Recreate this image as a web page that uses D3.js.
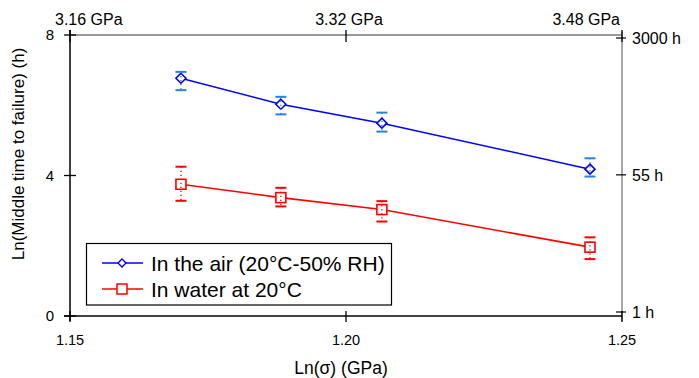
<!DOCTYPE html>
<html>
<head>
<meta charset="utf-8">
<script src="https://cdn.jsdelivr.net/npm/d3@7"></script>
<style>
  html, body { margin: 0; padding: 0; background: #fff; }
  svg text { font-family: "Liberation Sans", Arial, Helvetica, sans-serif; fill: #000; }
</style>
</head>
<body>
<svg id="chart" width="699" height="378"></svg>
<script>
// ---- data ----
const lnSigma = [1.1701, 1.1882, 1.2065, 1.2442];
const airMean = [6.77, 6.03, 5.49, 4.18];
const airHigh = [6.95, 6.24, 5.79, 4.49];
const airLow  = [6.43, 5.74, 5.25, 3.97];
const waterMean = [3.75, 3.37, 3.03, 1.96];
const waterHigh = [4.25, 3.65, 3.27, 2.24];
const waterLow  = [3.28, 3.12, 2.69, 1.62];
const seriesNames = ["In the air (20°C-50% RH)", "In water at 20°C"];
const xTicks = [1.15, 1.20, 1.25];
const yTicks = [0, 4, 8];
const topTicks = [3.16, 3.32, 3.48];
const topTickLabels = ["3.16 GPa", "3.32 GPa", "3.48 GPa"];
const rightTicks = [1, 55, 3000];
const rightTickLabels = ["1 h", "55 h", "3000 h"];

// ---- layout ----
const svg = d3.select("#chart");
const L = 70, R = 622, T = 35, B = 316;
const x = d3.scaleLinear().domain([1.15, 1.25]).range([L, R]);
const y = d3.scaleLinear().domain([0, 8]).range([B, T]);
const xTop = d3.scaleLinear().domain([3.16, 3.48]).range([L, R]);
const yRight = d3.scaleLog().domain([1, 3000]).range([B - 4, T + 3]);

const blue = "#0000ff", blueErr = "#2a82dc", red = "#ff0000";

// frame lines
svg.append("line").attr("x1", L).attr("x2", R).attr("y1", T).attr("y2", T)
  .attr("stroke", "#777").attr("stroke-width", 1.3);
svg.append("line").attr("x1", R).attr("x2", R).attr("y1", T - 3).attr("y2", B + 5)
  .attr("stroke", "#777").attr("stroke-width", 1.3);
svg.append("line").attr("x1", L).attr("x2", L).attr("y1", T - 5).attr("y2", B + 5)
  .attr("stroke", "#000").attr("stroke-width", 1.5);
svg.append("line").attr("x1", L - 6).attr("x2", R).attr("y1", B).attr("y2", B)
  .attr("stroke", "#000").attr("stroke-width", 1.5);

// bottom axis
const bx = svg.append("g");
xTicks.forEach(v => {
  bx.append("line").attr("x1", x(v)).attr("x2", x(v)).attr("y1", B - 5).attr("y2", B + 6)
    .attr("stroke", "#000").attr("stroke-width", 1.3);
  bx.append("text").attr("x", x(v)).attr("y", 345).attr("text-anchor", "middle")
    .attr("font-size", "14.5px").text(d3.format(".2f")(v));
});
svg.append("text").attr("x", 341).attr("y", 374).attr("text-anchor", "middle")
  .attr("font-size", "17.5px").text("Ln(σ) (GPa)");

// left axis
yTicks.forEach(v => {
  svg.append("line").attr("x1", L - 6).attr("x2", L + 6).attr("y1", y(v)).attr("y2", y(v))
    .attr("stroke", "#000").attr("stroke-width", 1.3);
  svg.append("text").attr("x", 54).attr("y", y(v) + 5).attr("text-anchor", "end")
    .attr("font-size", "15px").text(v);
});
svg.append("text").attr("transform", "translate(24,154) rotate(-90)")
  .attr("text-anchor", "middle").attr("font-size", "17px")
  .text("Ln(Middle time to failure) (h)");

// top axis
topTicks.forEach((v, i) => {
  svg.append("line").attr("x1", xTop(v)).attr("x2", xTop(v)).attr("y1", T - 5).attr("y2", T + 7)
    .attr("stroke", "#000").attr("stroke-width", 1.3);
  const anchor = i === 0 ? "start" : (i === topTicks.length - 1 ? "end" : "middle");
  const dx = i === 0 ? -15 : (i === topTicks.length - 1 ? -2 : 3);
  svg.append("text").attr("x", xTop(v) + dx).attr("y", 25).attr("text-anchor", anchor)
    .attr("font-size", "16px").text(topTickLabels[i]);
});

// right axis
rightTicks.forEach((v, i) => {
  svg.append("line").attr("x1", R - 6).attr("x2", R + 4).attr("y1", yRight(v)).attr("y2", yRight(v))
    .attr("stroke", "#000").attr("stroke-width", 1.2);
  svg.append("text").attr("x", R + 10).attr("y", yRight(v) + 6).attr("text-anchor", "start")
    .attr("font-size", "16px").text(rightTickLabels[i]);
});

// series
const line = d3.line().x(d => x(d[0])).y(d => y(d[1]));
function drawSeries(mean, low, high, color, errColor, marker) {
  const pts = lnSigma.map((v, i) => [v, mean[i]]);
  svg.append("path").attr("d", line(pts)).attr("fill", "none")
    .attr("stroke", color).attr("stroke-width", 1.6);
  pts.forEach((p, i) => {
    const cx = x(p[0]), cy = y(p[1]);
    if (marker === "diamond") {
      svg.append("path").attr("d", `M${cx},${cy-5} L${cx+5},${cy} L${cx},${cy+5} L${cx-5},${cy} Z`)
        .attr("fill", "#fff").attr("stroke", color).attr("stroke-width", 1.6);
    } else {
      svg.append("rect").attr("x", cx - 5).attr("y", cy - 5).attr("width", 10).attr("height", 10)
        .attr("fill", "#fff").attr("stroke", color).attr("stroke-width", 1.6);
    }
    // error bar
    svg.append("line").attr("x1", cx).attr("x2", cx).attr("y1", y(high[i])).attr("y2", y(low[i]))
      .attr("stroke", errColor).attr("stroke-width", 1.3).attr("stroke-dasharray", "1.3,2.7");
    [high[i], low[i]].forEach(v => {
      svg.append("line").attr("x1", cx - 5.5).attr("x2", cx + 5.5).attr("y1", y(v)).attr("y2", y(v))
        .attr("stroke", errColor).attr("stroke-width", 2);
    });
  });
}
drawSeries(airMean, airLow, airHigh, blue, blueErr, "diamond");
drawSeries(waterMean, waterLow, waterHigh, red, red, "square");

// legend
const lg = svg.append("g");
lg.append("rect").attr("x", 86.5).attr("y", 243.5).attr("width", 305).attr("height", 61.5)
  .attr("fill", "#fff").attr("stroke", "#000").attr("stroke-width", 1.2);
const rows = [
  {name: seriesNames[0], color: blue, marker: "diamond", cy: 263},
  {name: seriesNames[1], color: red, marker: "square", cy: 289}
];
rows.forEach(r => {
  lg.append("line").attr("x1", 102).attr("x2", 143).attr("y1", r.cy).attr("y2", r.cy)
    .attr("stroke", r.color).attr("stroke-width", 1.6);
  const cx = 122;
  if (r.marker === "diamond") {
    lg.append("path").attr("d", `M${cx},${r.cy-4} L${cx+4},${r.cy} L${cx},${r.cy+4} L${cx-4},${r.cy} Z`)
      .attr("fill", "#fff").attr("stroke", r.color).attr("stroke-width", 1.4);
  } else {
    lg.append("rect").attr("x", cx - 5).attr("y", r.cy - 5).attr("width", 10).attr("height", 10)
      .attr("fill", "#fff").attr("stroke", r.color).attr("stroke-width", 1.5);
  }
  lg.append("text").attr("x", 151).attr("y", r.cy + 7.5).attr("font-size", "21px").text(r.name);
});
</script>
</body>
</html>
